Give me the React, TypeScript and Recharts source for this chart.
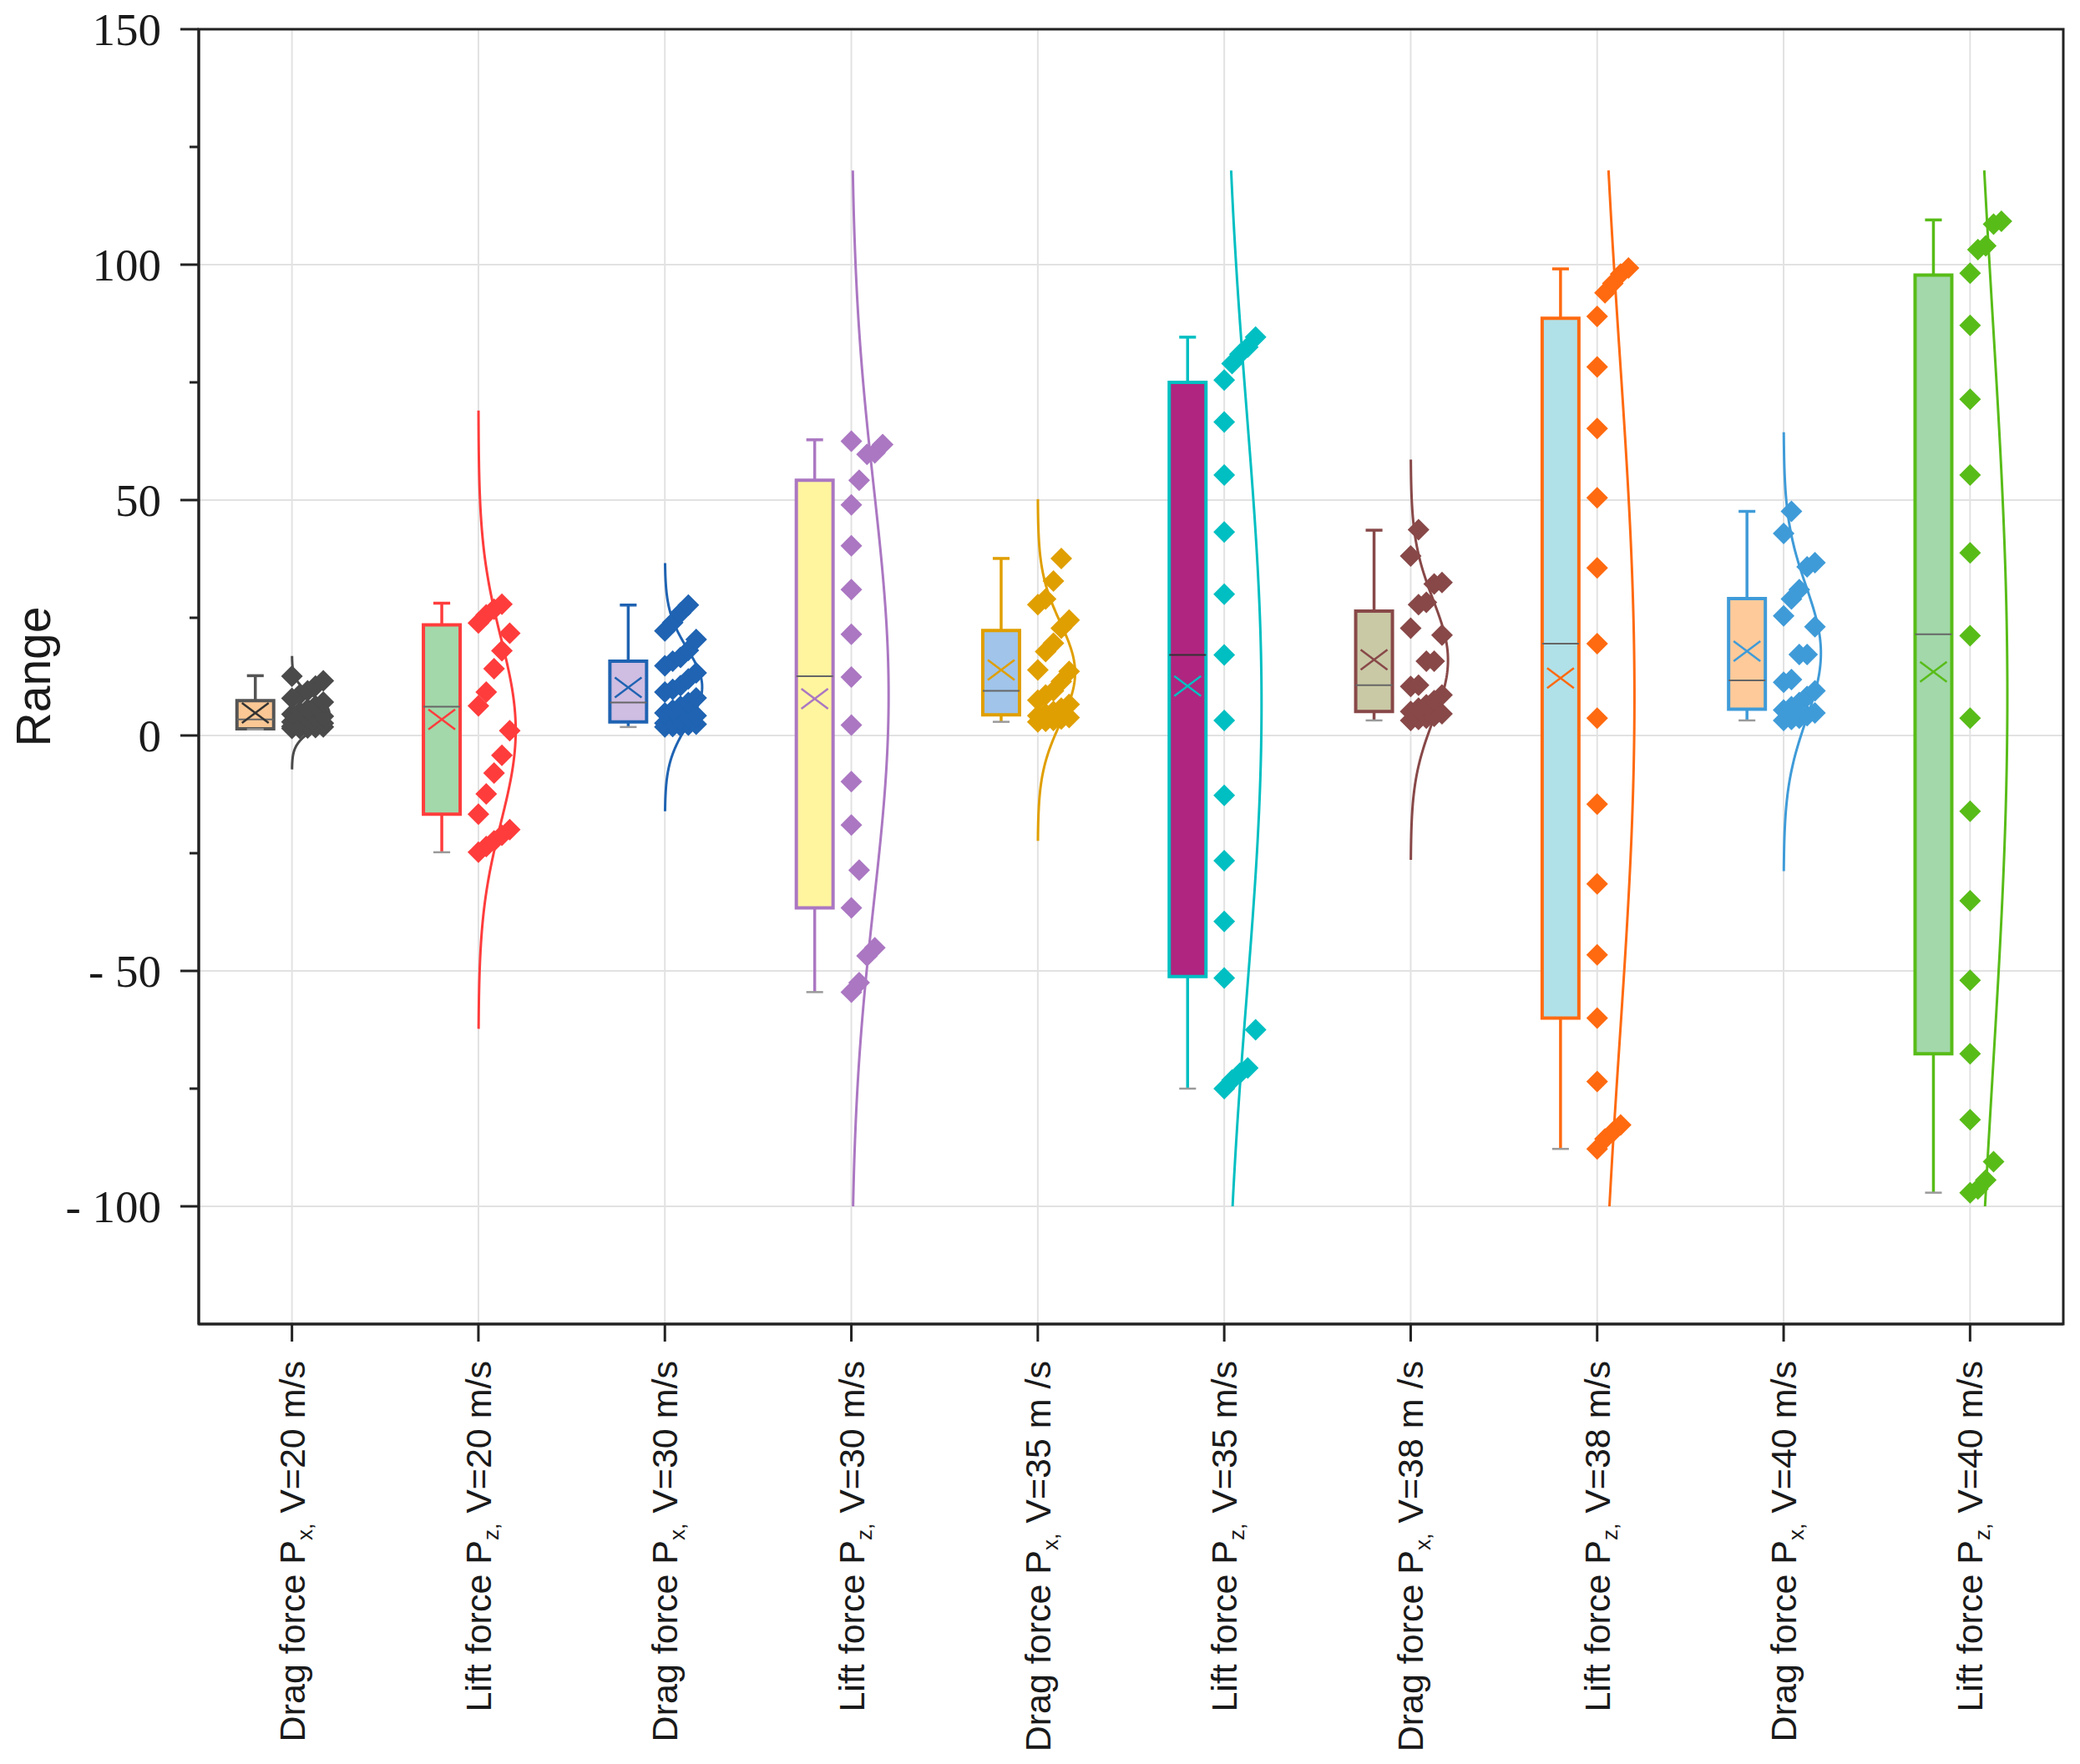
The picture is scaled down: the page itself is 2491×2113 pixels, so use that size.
import React from 'react';
import {
  ComposedChart,
  XAxis,
  YAxis,
  CartesianGrid,
  ReferenceArea,
  ReferenceLine,
  Line,
  Scatter,
} from 'recharts';

// tick labels
const forceNames = ['Drag force', 'Lift force', 'Drag force', 'Lift force', 'Drag force', 'Lift force', 'Drag force', 'Lift force', 'Drag force', 'Lift force'];
const forceSubs = ['x', 'z', 'x', 'z', 'x', 'z', 'x', 'z', 'x', 'z'];
const speedLabels = ['V=20 m/s', 'V=20 m/s', 'V=30 m/s', 'V=30 m/s', 'V=35 m /s', 'V=35 m/s', 'V=38 m /s', 'V=38 m/s', 'V=40 m/s', 'V=40 m/s'];
const yTicks = [-100, -75, -50, -25, 0, 25, 50, 75, 100, 125, 150];

// box statistics
const boxMin = [1.3, -24.8, 1.8, -54.5, 2.9, -75, 3.2, -87.8, 3.2, -97.1];
const boxQ1 = [1.4, -16.7, 2.9, -36.6, 4.4, -51.2, 5.1, -60, 5.6, -67.6];
const boxMedian = [3.4, 6.1, 7.0, 12.6, 9.5, 17.1, 10.7, 19.5, 11.7, 21.5];
const boxQ3 = [7.4, 23.5, 15.8, 54.2, 22.3, 75, 26.4, 88.6, 29.1, 97.8];
const boxMax = [12.7, 28.1, 27.7, 62.8, 37.6, 84.6, 43.6, 99.1, 47.6, 109.5];
const boxMean = [4.8, 3.4, 10.2, 7.8, 13.9, 10.5, 16.1, 12.2, 17.9, 13.5];

// extent of the normal curves
const curveLow = [-7.2, -62.3, -16.1, -100, -22.4, -100, -26.4, -100, -28.8, -100];
const curveHigh = [16.9, 69, 36.6, 120, 50.2, 120, 58.6, 120, 64.4, 120];

// raw points
const dragV20 = [1.5, 1.5, 1.6, 1.7, 1.8, 1.9, 2.0, 2.2, 2.4, 2.6, 2.9, 3.2, 3.5, 3.8, 4.1, 4.5, 5.0, 5.6, 6.3, 7.1, 7.9, 8.7, 9.5, 10.5, 11.6, 12.6];
const liftV20 = [27.9, 26.8, 25.6, 23.9, 21.7, 18, 14.2, 9.2, 6.3, 1.0, -4.2, -8.0, -12.4, -16.7, -20, -21.2, -22.4, -23.6, -24.8];
const dragV30 = [27.7, 26.0, 24.0, 22.2, 20.4, 18.1, 16.6, 15.8, 14.8, 13.3, 12.0, 10.6, 9.8, 9.2, 8.0, 7.0, 6.2, 5.4, 4.8, 4.2, 3.7, 3.3, 2.9, 2.6, 2.4, 2.2, 2.0, 1.9, 1.8];
const liftV30 = [62.5, 61.8, 60.0, 59.7, 54.2, 49, 40.3, 31, 21.5, 12.4, 2.2, -9.8, -19, -28.6, -36.6, -45.1, -46.8, -52.5, -54.5];
const dragV35 = [37.6, 32.8, 29.0, 27.8, 24.5, 22.8, 19.6, 17.8, 13.9, 13.6, 11.5, 9.5, 8.6, 7.5, 6.6, 5.8, 5.1, 4.6, 4.2, 3.8, 3.5, 3.2, 3.0, 2.9];
const liftV35 = [84.6, 82.5, 81, 79, 75.5, 66.6, 55.3, 43.2, 30.0, 17.1, 3.2, -12.7, -26.6, -39.5, -51.5, -62.5, -70.6, -71.7, -73.2, -75];
const dragV38 = [43.7, 38.1, 32.5, 32.2, 28.3, 27.8, 22.8, 21.3, 15.8, 15.8, 10.7, 10.4, 8.6, 7.4, 6.5, 5.8, 5.1, 4.6, 4.1, 3.7, 3.4, 3.2];
const liftV38 = [99.3, 98, 96, 94, 89, 78.3, 65.2, 50.5, 35.6, 19.5, 3.7, -14.6, -31.5, -46.6, -60, -73.5, -82.7, -84.2, -85.7, -87.8];
const dragV40 = [47.6, 42.9, 36.7, 35.8, 31.0, 29.0, 25.4, 23.1, 17.2, 17.2, 11.9, 11.3, 9.5, 8.3, 7.0, 6.1, 5.4, 4.8, 4.2, 3.7, 3.4, 3.2];
const liftV40 = [109.2, 108.6, 104, 103.2, 98.2, 87.1, 71.4, 55.3, 38.8, 21.2, 3.7, -16.1, -35.1, -52, -67.6, -81.6, -90.5, -94.4, -96.3, -97.1];

const allPoints = [dragV20, liftV20, dragV30, liftV30, dragV35, liftV35, dragV38, liftV38, dragV40, liftV40];

const lineColors = ['#4a4a4a', '#ff3c3c', '#1f63b2', '#ab77c2', '#e09f00', '#00bfc2', '#884848', '#ff6a10', '#3f9bd8', '#58bc18'];
const boxFills = ['#fbc794', '#a2d8aa', '#cfbde2', '#fff59f', '#a0c4ea', '#b0257f', '#c9c9a6', '#b0e1e8', '#ffca9a', '#a2d8aa'];

// layout in category units (one category = 1)
const BOX_L = -0.295;
const BOX_R = -0.098;
const BOX_C = (BOX_L + BOX_R) / 2;
const CAP = 0.045;
const CURVE_W = 0.2;
const SWARM_STEP = 0.042;
const SWARM_GAP = 8.5;
const SWARM_SLOTS = 5;

const centers = allPoints.map((_, i) => i + 0.5);

function swarm(values: number[], center: number) {
  const sorted = [...values].sort((a, b) => a - b);
  let slot = 0;
  return sorted.map((v, k) => {
    if (k > 0 && v - sorted[k - 1] < SWARM_GAP) slot = (slot + 1) % SWARM_SLOTS;
    else slot = 0;
    return { x: center + slot * SWARM_STEP, y: v };
  });
}

function normalCurve(values: number[], center: number, lo: number, hi: number) {
  const n = values.length;
  const m = values.reduce((a, b) => a + b, 0) / n;
  const sd = Math.sqrt(values.reduce((a, b) => a + (b - m) * (b - m), 0) / (n - 1));
  const out = [];
  const steps = 160;
  for (let k = 0; k <= steps; k++) {
    const y = lo + ((hi - lo) * k) / steps;
    const z = (y - m) / sd;
    out.push({ x: center + CURVE_W * Math.exp(-0.5 * z * z), y });
  }
  return out;
}

const swarmData = allPoints.map((p, i) => swarm(p, centers[i]));
const curveData = allPoints.map((p, i) => normalCurve(p, centers[i], curveLow[i], curveHigh[i]));

const sans = '"Liberation Sans", Arial, Helvetica, sans-serif';
const serif = '"Liberation Serif", "Times New Roman", serif';
const axisColor = '#222';

function XTick(props: any) {
  const { x, y, payload } = props;
  const i = Math.round(payload.value - 0.5);
  return (
    <g transform={`translate(${x + 15},${y + 23}) rotate(-90)`}>
      <text textAnchor="end" fontFamily={sans} fontSize={43} fill="#1a1a1a">
        <tspan>{forceNames[i]} P</tspan>
        <tspan fontSize={26} dy={9}>{forceSubs[i]},</tspan>
        <tspan dy={-9}>{' ' + speedLabels[i]}</tspan>
      </text>
    </g>
  );
}

function YTick(props: any) {
  const { x, y, payload } = props;
  const v = payload.value;
  const major = v % 50 === 0;
  const label = v < 0 ? `- ${Math.abs(v)}` : `${v}`;
  return (
    <g>
      <line x1={x} x2={x - (major ? 22 : 11)} y1={y} y2={y} stroke={axisColor} strokeWidth={3} />
      {major && (
        <text x={x - 45} y={y} dy="0.34em" textAnchor="end" fontFamily={serif} fontSize={55} fill="#1a1a1a">
          {label}
        </text>
      )}
    </g>
  );
}

function RangeLabel(props: any) {
  const { viewBox } = props;
  const cx = viewBox.x - 28;
  const cy = viewBox.y + viewBox.height / 2;
  return (
    <text transform={`translate(${cx},${cy}) rotate(-90)`} textAnchor="middle" fontFamily={sans} fontSize={57} fill="#1a1a1a">
      Range
    </text>
  );
}

export default function App() {
  return (
    <div style={{ position: 'absolute', left: 0, top: 0, width: 2491, height: 2113, background: '#fff' }}>
      <ComposedChart width={2491} height={2113} margin={{ top: 35, right: 20, bottom: 27, left: 88 }}>
        <CartesianGrid
          stroke="#e2e2e2"
          strokeWidth={2}
          horizontalValues={[-100, -50, 0, 50, 100]}
          verticalValues={centers}
        />
        <XAxis
          type="number"
          dataKey="x"
          domain={[0, 10]}
          allowDataOverflow
          ticks={centers}
          interval={0}
          height={500}
          tickSize={21}
          tickMargin={0}
          tick={<XTick />}
          axisLine={{ stroke: axisColor, strokeWidth: 3 }}
          tickLine={{ stroke: axisColor, strokeWidth: 3 }}
        />
        <YAxis
          type="number"
          dataKey="y"
          domain={[-125, 150]}
          allowDataOverflow
          ticks={yTicks}
          interval={0}
          width={150}
          tickSize={0}
          tickMargin={0}
          tickLine={false}
          tick={<YTick />}
          axisLine={{ stroke: axisColor, strokeWidth: 3 }}
          label={<RangeLabel />}
        />

        {/* frame around the plot */}
        <ReferenceArea x1={0} x2={10} y1={-125} y2={150} fill="none" stroke={axisColor} strokeWidth={3} ifOverflow="visible" />

        {centers.map((c, i) => (
          <ReferenceArea
            key={'box' + i}
            x1={c + BOX_L}
            x2={c + BOX_R}
            y1={boxQ1[i]}
            y2={boxQ3[i]}
            fill={boxFills[i]}
            fillOpacity={1}
            stroke={i === 0 ? '#555' : lineColors[i]}
            strokeWidth={4}
            ifOverflow="visible"
          />
        ))}
        {centers.map((c, i) => (
          <ReferenceLine
            key={'wu' + i}
            segment={[{ x: c + BOX_C, y: boxQ3[i] }, { x: c + BOX_C, y: boxMax[i] }]}
            stroke={i === 0 ? '#555' : lineColors[i]}
            strokeWidth={3.5}
            ifOverflow="visible"
          />
        ))}
        {centers.map((c, i) => (
          <ReferenceLine
            key={'wl' + i}
            segment={[{ x: c + BOX_C, y: boxMin[i] }, { x: c + BOX_C, y: boxQ1[i] }]}
            stroke={i === 0 ? '#555' : lineColors[i]}
            strokeWidth={3.5}
            ifOverflow="visible"
          />
        ))}
        {centers.map((c, i) => (
          <ReferenceLine
            key={'cu' + i}
            segment={[{ x: c + BOX_C - CAP, y: boxMax[i] }, { x: c + BOX_C + CAP, y: boxMax[i] }]}
            stroke={i === 0 ? '#555' : lineColors[i]}
            strokeWidth={3.5}
            ifOverflow="visible"
          />
        ))}
        {centers.map((c, i) => (
          <ReferenceLine
            key={'cl' + i}
            segment={[{ x: c + BOX_C - CAP, y: boxMin[i] }, { x: c + BOX_C + CAP, y: boxMin[i] }]}
            stroke="#9a9a9a"
            strokeWidth={2.5}
            ifOverflow="visible"
          />
        ))}
        {centers.map((c, i) => (
          <ReferenceLine
            key={'md' + i}
            segment={[{ x: c + BOX_L, y: boxMedian[i] }, { x: c + BOX_R, y: boxMedian[i] }]}
            stroke={i === 5 ? '#333' : '#666'}
            strokeWidth={2}
            ifOverflow="visible"
          />
        ))}

        {curveData.map((d, i) => (
          <Line
            key={'curve' + i}
            data={d}
            dataKey="y"
            type="linear"
            stroke={lineColors[i]}
            strokeWidth={3}
            dot={false}
            activeDot={false}
            isAnimationActive={false}
          />
        ))}

        {swarmData.map((d, i) => (
          <Scatter
            key={'pts' + i}
            data={d}
            fill={lineColors[i]}
            isAnimationActive={false}
            shape={(p: any) => (
              <polygon
                points={`${p.cx},${p.cy - 13} ${p.cx + 13},${p.cy} ${p.cx},${p.cy + 13} ${p.cx - 13},${p.cy}`}
                fill={lineColors[i]}
              />
            )}
          />
        ))}

        {centers.map((c, i) => (
          <Scatter
            key={'mean' + i}
            data={[{ x: c + BOX_C, y: boxMean[i] }]}
            fill={lineColors[i]}
            isAnimationActive={false}
            shape={(p: any) => (
              <g stroke={i === 0 ? '#333' : lineColors[i]} strokeWidth={2.5}>
                <line x1={p.cx - 16} y1={p.cy - 12} x2={p.cx + 16} y2={p.cy + 12} />
                <line x1={p.cx - 16} y1={p.cy + 12} x2={p.cx + 16} y2={p.cy - 12} />
              </g>
            )}
          />
        ))}
      </ComposedChart>
    </div>
  );
}
